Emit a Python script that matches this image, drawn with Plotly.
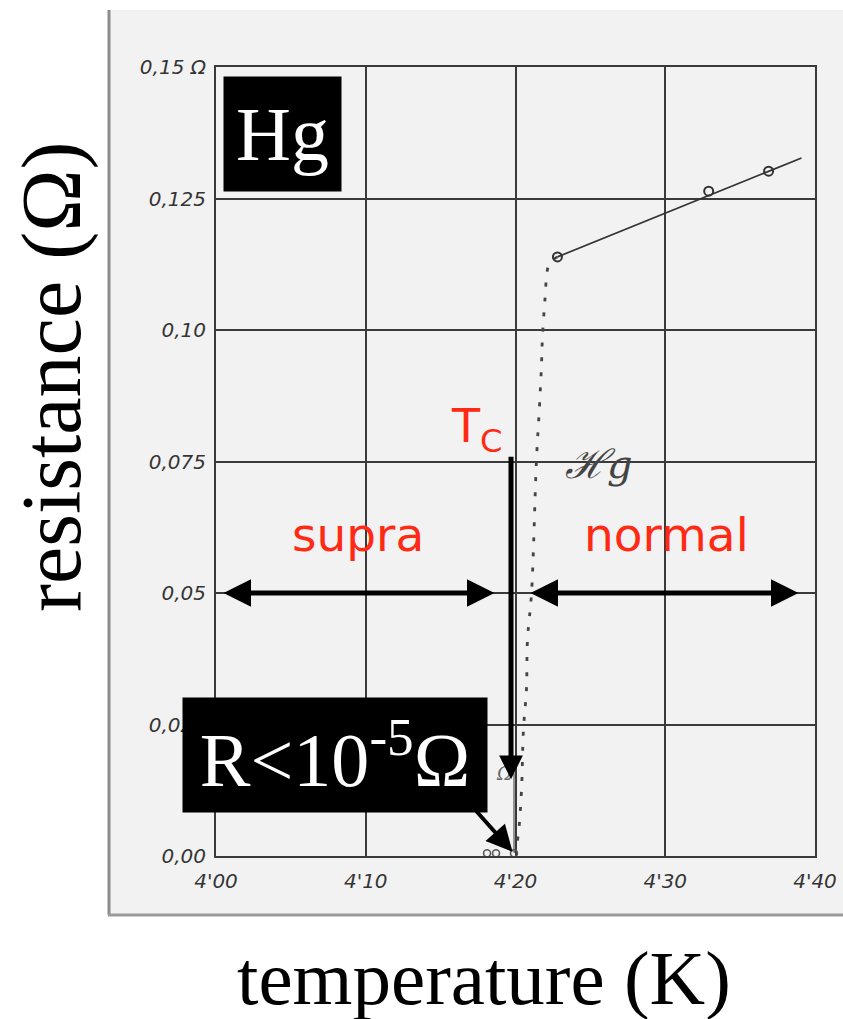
import plotly.graph_objects as go

# axis ticks: temperature (K) and resistance (ohm), written in the old decimal-comma style
temp_ticks = [4.00, 4.10, 4.20, 4.30, 4.40]
temp_labels = ["4'00", "4'10", "4'20", "4'30", "4'40"]
res_ticks = [0.0, 0.025, 0.05, 0.075, 0.10, 0.125, 0.15]
res_labels = ["0,00", "0,025", "0,05", "0,075", "0,10", "0,125", "0,15 Ω"]

# normal-state measurements of mercury
t_normal = [4.228, 4.329, 4.369]
r_normal = [0.1139, 0.1264, 0.1302]

# straight line drawn through the normal-state points
t_fit = [4.228, 4.391]
r_fit = [0.1139, 0.1327]

# dotted drop of the resistance at the transition
t_drop = [4.228, 4.2227, 4.2207, 4.2200, 4.2193, 4.2180, 4.2173, 4.2160,
          4.2140, 4.2107, 4.2080, 4.2073, 4.2053, 4.2040, 4.2020, 4.2000]
r_drop = [0.1139, 0.1127, 0.1101, 0.1070, 0.1044, 0.0987, 0.0930, 0.0854,
          0.0753, 0.0500, 0.0411, 0.0316, 0.0240, 0.0125, 0.0044, 0.0006]

# readings below the transition (resistance too small to resolve)
t_super = [4.181, 4.187, 4.199]
r_super = [0.0005, 0.0005, 0.0005]

# critical temperature marker and the two regions
t_c = 4.197
r_regions = 0.05
t_supra = [4.004, 4.186]
t_norm = [4.209, 4.389]

# 10^-5 ohm scale bar near the origin
t_bar = 4.199
r_bar = [0.0006, 0.0158]

W, H = 843, 1019
ML, MR, MT, MB = 216, 28, 67, 163
PW, PH = W - ML - MR, H - MT - MB

INK = "#333333"
RED = "#ff2a14"


def px(x):
    return (x - ML) / PW


def py(y):
    return (H - MB - y) / PH


fig = go.Figure()

fig.add_trace(go.Scatter(x=t_fit, y=r_fit, mode="lines",
                         line=dict(color=INK, width=1.7), hoverinfo="skip"))
fig.add_trace(go.Scatter(x=t_drop, y=r_drop, mode="lines",
                         line=dict(color="#444444", width=2.8, dash="4px,11px", shape="spline"),
                         hoverinfo="skip"))
fig.add_trace(go.Scatter(x=t_normal, y=r_normal, mode="markers",
                         marker=dict(symbol="circle-open", size=9, color=INK, line=dict(width=2))))
fig.add_trace(go.Scatter(x=t_super, y=r_super, mode="markers",
                         marker=dict(symbol="circle-open", size=7, color="#555555", line=dict(width=1.5))))
fig.add_trace(go.Scatter(x=[t_bar, t_bar], y=r_bar, mode="lines",
                         line=dict(color="#555555", width=1.2), hoverinfo="skip"))

shapes = [
    # scanned sheet behind the diagram
    dict(type="rect", xref="paper", yref="paper", x0=px(108), x1=px(860), y0=py(915), y1=py(10),
         fillcolor="#f2f2f2", line=dict(width=0), layer="below"),
    dict(type="line", xref="paper", yref="paper", x0=px(109), x1=px(109), y0=py(915), y1=py(10),
         line=dict(color="#8c8c8c", width=3), layer="below"),
    dict(type="line", xref="paper", yref="paper", x0=px(108), x1=px(860), y0=py(915), y1=py(915),
         line=dict(color="#9a9a9a", width=3), layer="below"),
]

annotations = []

# y-axis and x-axis titles
annotations.append(dict(text="resistance (Ω)", xref="paper", yref="paper", x=px(52), y=py(377),
                        textangle=-90, showarrow=False, xanchor="center", yanchor="middle",
                        font=dict(family="Liberation Serif", size=84, color="#000000")))
annotations.append(dict(text="temperature (K)", xref="paper", yref="paper", x=px(484), y=py(978),
                        showarrow=False, xanchor="center", yanchor="middle",
                        font=dict(family="Liberation Serif", size=77, color="#000000")))

# Hg label box
annotations.append(dict(text="Hg", xref="paper", yref="paper", x=px(282.5), y=py(134),
                        showarrow=False, xanchor="center", yanchor="middle",
                        width=117, height=114, bgcolor="#000000", borderpad=0, valign="middle",
                        font=dict(family="Liberation Serif", size=76, color="#ffffff")))

# handwritten curve label
annotations.append(dict(text="ℋg", x=4.256, y=0.0745, showarrow=False,
                        font=dict(family="DejaVu Serif", size=40, color="#444444", style="italic")))
annotations.append(dict(text="Ω", x=4.192, y=0.0157, showarrow=False,
                        font=dict(family="DejaVu Serif", size=18, color="#666666", style="italic")))

# region labels
annotations.append(dict(text="supra", x=4.095, y=0.0612, showarrow=False,
                        font=dict(family="DejaVu Sans", size=47, color=RED)))
annotations.append(dict(text="normal", x=4.301, y=0.0612, showarrow=False,
                        font=dict(family="DejaVu Sans", size=47, color=RED)))
annotations.append(dict(text="T<sub>C</sub>", x=4.174, y=0.0810, showarrow=False,
                        font=dict(family="DejaVu Sans", size=46, color=RED)))

# arrows
annotations.append(dict(x=t_c, y=0.0146, ax=t_c, ay=0.0762, xref="x", yref="y", axref="x", ayref="y",
                        text="", showarrow=True, arrowhead=2, arrowsize=0.95, arrowwidth=5,
                        arrowcolor="#000000", standoff=0))
annotations.append(dict(x=t_supra[1], y=r_regions, ax=t_supra[0], ay=r_regions,
                        xref="x", yref="y", axref="x", ayref="y", text="", showarrow=True,
                        arrowhead=2, startarrowhead=2, arrowside="end+start",
                        arrowsize=1.1, startarrowsize=1.1, arrowwidth=5, arrowcolor="#000000",
                        standoff=0, startstandoff=0))
annotations.append(dict(x=t_norm[1], y=r_regions, ax=t_norm[0], ay=r_regions,
                        xref="x", yref="y", axref="x", ayref="y", text="", showarrow=True,
                        arrowhead=2, startarrowhead=2, arrowside="end+start",
                        arrowsize=1.1, startarrowsize=1.1, arrowwidth=5, arrowcolor="#000000",
                        standoff=0, startstandoff=0))
annotations.append(dict(x=4.198, y=0.0008, ax=4.173, ay=0.0088, xref="x", yref="y",
                        axref="x", ayref="y", text="", showarrow=True, arrowhead=2,
                        arrowsize=1.3, arrowwidth=4, arrowcolor="#000000", standoff=0))

# threshold label box
annotations.append(dict(text="R&lt;10<sup>-5</sup>Ω", xref="paper", yref="paper", x=px(335), y=py(755),
                        showarrow=False, xanchor="center", yanchor="middle",
                        width=304, height=114, bgcolor="#000000", borderpad=0, valign="middle",
                        font=dict(family="Liberation Serif", size=76, color="#ffffff")))

tick_font = dict(family="DejaVu Sans", size=20, color="#353535", style="italic")

fig.update_layout(
    width=W, height=H, autosize=False,
    margin=dict(l=ML, r=MR, t=MT, b=MB, pad=0),
    paper_bgcolor="#ffffff",
    plot_bgcolor="rgba(0,0,0,0)",
    showlegend=False,
    shapes=shapes,
    annotations=annotations,
    xaxis=dict(range=[4.00, 4.40], tickvals=temp_ticks, ticktext=temp_labels,
               showgrid=True, gridcolor="#3a3a3a", gridwidth=1.8, automargin=False,
               showline=True, linecolor="#3a3a3a", linewidth=2, mirror=True,
               zeroline=False, ticks="", tickfont=tick_font, ticklabelstandoff=6),
    yaxis=dict(range=[0.0, 0.15], tickvals=res_ticks, ticktext=res_labels,
               showgrid=True, gridcolor="#3a3a3a", gridwidth=1.8, automargin=False,
               showline=True, linecolor="#3a3a3a", linewidth=2, mirror=True,
               zeroline=False, ticks="", tickfont=tick_font, ticklabelstandoff=4),
)

fig.write_html("out.html")
